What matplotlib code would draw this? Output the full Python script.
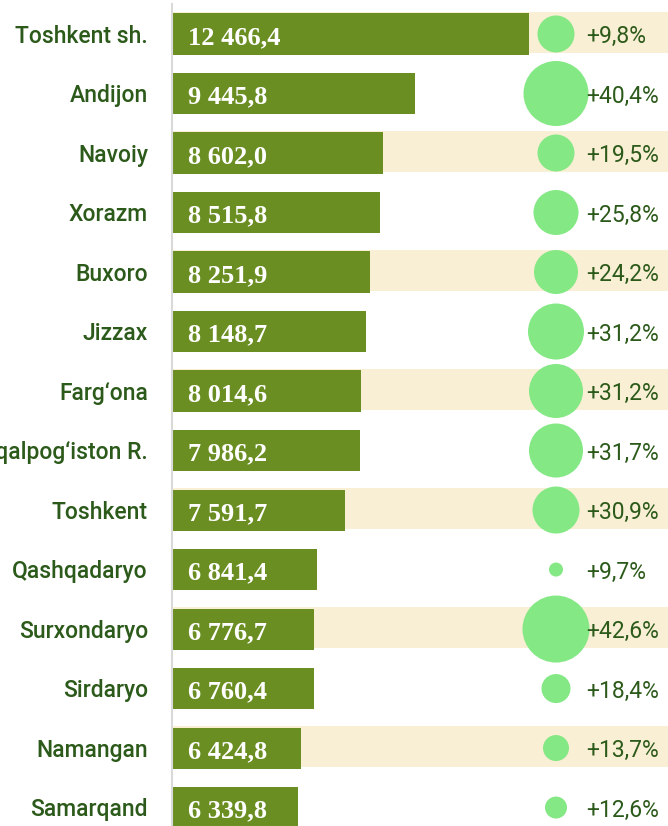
import matplotlib
matplotlib.use("Agg")
import matplotlib.pyplot as plt
import matplotlib.transforms as mtransforms

regions = ["Toshkent sh.", "Andijon", "Navoiy", "Xorazm", "Buxoro", "Jizzax",
           "Farg‘ona", "Qoraqalpog‘iston R.", "Toshkent", "Qashqadaryo",
           "Surxondaryo", "Sirdaryo", "Namangan", "Samarqand"]
values = [12466.4, 9445.8, 8602.0, 8515.8, 8251.9, 8148.7, 8014.6, 7986.2,
          7591.7, 6841.4, 6776.7, 6760.4, 6424.8, 6339.8]
value_labels = ["12 466,4", "9 445,8", "8 602,0", "8 515,8", "8 251,9", "8 148,7",
                "8 014,6", "7 986,2", "7 591,7", "6 841,4", "6 776,7", "6 760,4",
                "6 424,8", "6 339,8"]
growth_labels = ["+9,8%", "+40,4%", "+19,5%", "+25,8%", "+24,2%", "+31,2%",
                 "+31,2%", "+31,7%", "+30,9%", "+9,7%", "+42,6%", "+18,4%",
                 "+13,7%", "+12,6%"]
bubble_values = [37, 65, 37, 45, 44, 56, 54, 54, 47, 14, 67, 29, 26, 22]

BAR = "#6B8E23"
BAND = "#F9EFD4"
BUBBLE = "#84E884"
TXT = "#2C5A1A"

W, H = 668, 826
fig = plt.figure(figsize=(W / 100, H / 100), dpi=100)
ax = fig.add_axes([172 / W, 0, 1 - 172 / W, 1 - 4 / H])

x0, x1 = 3007, 16150
ax.set_xlim(x0, x1)
ax.set_ylim(13.31, -0.504)

n = len(regions)
ys = list(range(n))
bh = 0.69
for i in ys:
    if i % 2 == 0:
        ax.barh(i - 0.03, x1 - x0, left=x0, height=bh, color=BAND, zorder=1)
ax.barh(ys, [v - x0 for v in values], left=x0, height=bh, color=BAR, zorder=2)

blend = mtransforms.blended_transform_factory(ax.transAxes, ax.transData)
bx = (556 - 172) / (W - 172)
tx = (586 - 172) / (W - 172)
sizes = [(b * 0.72) ** 2 for b in bubble_values]
ax.scatter([bx] * n, ys, s=sizes, color=BUBBLE, transform=blend, zorder=3,
           linewidths=0)

lx = (188 - 172) / (W - 172)
rx = (148 - 172) / (W - 172)
for i in ys:
    ax.text(lx, i + 0.17, value_labels[i], transform=blend, ha="left", va="baseline",
            color="white", fontsize=19, fontweight="bold",
            family=["Liberation Serif", "DejaVu Serif"], zorder=4)
    ax.text(tx, i + 0.155, growth_labels[i], transform=blend, ha="left", va="baseline",
            color=TXT, fontsize=16.5, family=["Roboto", "DejaVu Sans"],
            zorder=4)
    ax.text(rx, i + 0.146, regions[i], transform=blend, ha="right", va="baseline",
            color=TXT, fontsize=16.5, fontweight="medium",
            family=["Roboto", "DejaVu Sans"], clip_on=False)

for s in ["top", "right", "bottom"]:
    ax.spines[s].set_visible(False)
ax.spines["left"].set_color("#D9D9D9")
ax.spines["left"].set_linewidth(1.5)
ax.set_xticks([])
ax.set_yticks([])
ax.patch.set_alpha(0)

fig.savefig("out.png", dpi=100)
